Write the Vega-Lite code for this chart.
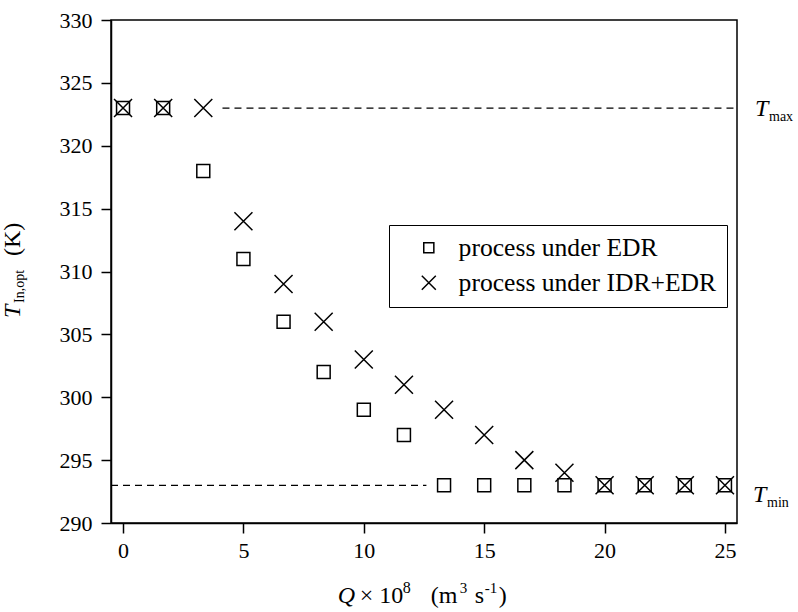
{
  "$schema": "https://vega.github.io/schema/vega-lite/v6.json",
  "width": 626,
  "height": 503,
  "autosize": {"type": "none"},
  "padding": {"left": 111, "top": 20, "right": 61, "bottom": 89},
  "background": "white",
  "config": {
    "font": "Liberation Serif",
    "view": {"stroke": "black", "strokeWidth": 1.5},
    "axis": {
      "grid": false,
      "domainColor": "black",
      "domainWidth": 1.5,
      "tickColor": "black",
      "tickWidth": 1.5,
      "tickSize": 10,
      "labelFont": "Liberation Serif",
      "labelFontSize": 22,
      "labelColor": "black"
    },
    "legend": {
      "orient": "none",
      "legendX": 278,
      "legendY": 205,
      "strokeColor": "black",
      "strokeWidth": 1,
      "padding": 10,
      "labelFont": "Liberation Serif",
      "labelFontSize": 25.6,
      "labelColor": "black",
      "labelLimit": 500,
      "symbolSize": 196,
      "symbolStrokeColor": "black",
      "symbolStrokeWidth": 1.5,
      "symbolFillColor": "transparent",
      "symbolOffset": 17,
      "labelOffset": 17,
      "rowPadding": 8,
      "title": null
    }
  },
  "datasets": {
    "points": [
      {"Q": 0, "T": 323, "series": "process under EDR"},
      {"Q": 1.667, "T": 323, "series": "process under EDR"},
      {"Q": 3.333, "T": 318, "series": "process under EDR"},
      {"Q": 5, "T": 311, "series": "process under EDR"},
      {"Q": 6.667, "T": 306, "series": "process under EDR"},
      {"Q": 8.333, "T": 302, "series": "process under EDR"},
      {"Q": 10, "T": 299, "series": "process under EDR"},
      {"Q": 11.667, "T": 297, "series": "process under EDR"},
      {"Q": 13.333, "T": 293, "series": "process under EDR"},
      {"Q": 15, "T": 293, "series": "process under EDR"},
      {"Q": 16.667, "T": 293, "series": "process under EDR"},
      {"Q": 18.333, "T": 293, "series": "process under EDR"},
      {"Q": 20, "T": 293, "series": "process under EDR"},
      {"Q": 21.667, "T": 293, "series": "process under EDR"},
      {"Q": 23.333, "T": 293, "series": "process under EDR"},
      {"Q": 25, "T": 293, "series": "process under EDR"},
      {"Q": 0, "T": 323, "series": "process under IDR+EDR"},
      {"Q": 1.667, "T": 323, "series": "process under IDR+EDR"},
      {"Q": 3.333, "T": 323, "series": "process under IDR+EDR"},
      {"Q": 5, "T": 314, "series": "process under IDR+EDR"},
      {"Q": 6.667, "T": 309, "series": "process under IDR+EDR"},
      {"Q": 8.333, "T": 306, "series": "process under IDR+EDR"},
      {"Q": 10, "T": 303, "series": "process under IDR+EDR"},
      {"Q": 11.667, "T": 301, "series": "process under IDR+EDR"},
      {"Q": 13.333, "T": 299, "series": "process under IDR+EDR"},
      {"Q": 15, "T": 297, "series": "process under IDR+EDR"},
      {"Q": 16.667, "T": 295, "series": "process under IDR+EDR"},
      {"Q": 18.333, "T": 294, "series": "process under IDR+EDR"},
      {"Q": 20, "T": 293, "series": "process under IDR+EDR"},
      {"Q": 21.667, "T": 293, "series": "process under IDR+EDR"},
      {"Q": 23.333, "T": 293, "series": "process under IDR+EDR"},
      {"Q": 25, "T": 293, "series": "process under IDR+EDR"}
    ],
    "limits": [
      {"name": "max", "x": 4.13, "x2": 25.5, "y": 323},
      {"name": "min", "x": -0.5, "x2": 12.6, "y": 293}
    ],
    "one": [{}]
  },
  "layer": [
    {
      "data": {"name": "limits"},
      "mark": {"type": "rule", "strokeDash": [7, 5], "strokeWidth": 1.2, "color": "black"},
      "encoding": {
        "x": {"field": "x", "type": "quantitative", "scale": {"domain": [-0.5, 25.5], "nice": false, "zero": false}},
        "x2": {"field": "x2"},
        "y": {"field": "y", "type": "quantitative", "scale": {"domain": [290, 330], "nice": false, "zero": false}}
      }
    },
    {
      "data": {"name": "points"},
      "mark": {"type": "point", "filled": false, "strokeWidth": 1.5, "color": "black", "size": 324, "opacity": 1},
      "encoding": {
        "x": {
          "field": "Q", "type": "quantitative",
          "scale": {"domain": [-0.5, 25.5], "nice": false, "zero": false},
          "axis": {"values": [0, 5, 10, 15, 20, 25], "title": null, "labelPadding": 7}
        },
        "y": {
          "field": "T", "type": "quantitative",
          "scale": {"domain": [290, 330], "nice": false, "zero": false},
          "axis": {"values": [290, 295, 300, 305, 310, 315, 320, 325, 330], "title": null, "labelPadding": 9}
        },
        "shape": {
          "field": "series", "type": "nominal",
          "scale": {
            "domain": ["process under EDR", "process under IDR+EDR"],
            "range": ["M-0.72,-0.72H0.72V0.72H-0.72Z", "M-1,-1L1,1M-1,1L1,-1"]
          },
          "legend": {"title": null}
        }
      }
    },
    {
      "data": {"name": "one"},
      "mark": {"type": "text", "text": "T", "font": "Liberation Serif", "fontStyle": "italic", "fontSize": 24, "angle": 270, "align": "left", "baseline": "alphabetic", "color": "black"},
      "encoding": {"x": {"datum": -4.28, "type": "quantitative"}, "y": {"datum": 306.3, "type": "quantitative"}}
    },
    {
      "data": {"name": "one"},
      "mark": {"type": "text", "text": "In,opt", "font": "Liberation Serif", "fontSize": 14, "angle": 270, "align": "left", "baseline": "alphabetic", "dx": 15, "dy": 4, "color": "black"},
      "encoding": {"x": {"datum": -4.28, "type": "quantitative"}, "y": {"datum": 306.3, "type": "quantitative"}}
    },
    {
      "data": {"name": "one"},
      "mark": {"type": "text", "text": "(K)", "font": "Liberation Serif", "fontSize": 24, "angle": 270, "align": "left", "baseline": "alphabetic", "dx": 62, "color": "black"},
      "encoding": {"x": {"datum": -4.28, "type": "quantitative"}, "y": {"datum": 306.3, "type": "quantitative"}}
    },
    {
      "data": {"name": "one"},
      "mark": {"type": "text", "text": "Q", "font": "Liberation Serif", "fontStyle": "italic", "fontSize": 24, "align": "left", "baseline": "alphabetic", "color": "black"},
      "encoding": {"x": {"datum": 8.92, "type": "quantitative"}, "y": {"datum": 283.64, "type": "quantitative"}}
    },
    {
      "data": {"name": "one"},
      "mark": {"type": "text", "text": "× 10", "font": "Liberation Serif", "fontSize": 24, "align": "left", "baseline": "alphabetic", "dx": 22, "color": "black"},
      "encoding": {"x": {"datum": 8.92, "type": "quantitative"}, "y": {"datum": 283.64, "type": "quantitative"}}
    },
    {
      "data": {"name": "one"},
      "mark": {"type": "text", "text": "8", "font": "Liberation Serif", "fontSize": 16, "align": "left", "baseline": "alphabetic", "dx": 65, "dy": -10, "color": "black"},
      "encoding": {"x": {"datum": 8.92, "type": "quantitative"}, "y": {"datum": 283.64, "type": "quantitative"}}
    },
    {
      "data": {"name": "one"},
      "mark": {"type": "text", "text": "(m", "font": "Liberation Serif", "fontSize": 24, "align": "left", "baseline": "alphabetic", "dx": 93, "color": "black"},
      "encoding": {"x": {"datum": 8.92, "type": "quantitative"}, "y": {"datum": 283.64, "type": "quantitative"}}
    },
    {
      "data": {"name": "one"},
      "mark": {"type": "text", "text": "3", "font": "Liberation Serif", "fontSize": 15, "align": "left", "baseline": "alphabetic", "dx": 122, "dy": -10, "color": "black"},
      "encoding": {"x": {"datum": 8.92, "type": "quantitative"}, "y": {"datum": 283.64, "type": "quantitative"}}
    },
    {
      "data": {"name": "one"},
      "mark": {"type": "text", "text": "s", "font": "Liberation Serif", "fontSize": 24, "align": "left", "baseline": "alphabetic", "dx": 137, "color": "black"},
      "encoding": {"x": {"datum": 8.92, "type": "quantitative"}, "y": {"datum": 283.64, "type": "quantitative"}}
    },
    {
      "data": {"name": "one"},
      "mark": {"type": "text", "text": "-1", "font": "Liberation Serif", "fontSize": 15, "align": "left", "baseline": "alphabetic", "dx": 147, "dy": -10, "color": "black"},
      "encoding": {"x": {"datum": 8.92, "type": "quantitative"}, "y": {"datum": 283.64, "type": "quantitative"}}
    },
    {
      "data": {"name": "one"},
      "mark": {"type": "text", "text": ")", "font": "Liberation Serif", "fontSize": 24, "align": "left", "baseline": "alphabetic", "dx": 161, "color": "black"},
      "encoding": {"x": {"datum": 8.92, "type": "quantitative"}, "y": {"datum": 283.64, "type": "quantitative"}}
    },
    {
      "data": {"name": "one"},
      "mark": {"type": "text", "text": "T", "font": "Liberation Serif", "fontStyle": "italic", "fontSize": 24, "align": "left", "baseline": "alphabetic", "dx": 18, "dy": 8, "color": "black"},
      "encoding": {"x": {"datum": 25.5, "type": "quantitative"}, "y": {"datum": 323, "type": "quantitative"}}
    },
    {
      "data": {"name": "one"},
      "mark": {"type": "text", "text": "max", "font": "Liberation Serif", "fontSize": 14, "align": "left", "baseline": "alphabetic", "dx": 32, "dy": 13, "color": "black"},
      "encoding": {"x": {"datum": 25.5, "type": "quantitative"}, "y": {"datum": 323, "type": "quantitative"}}
    },
    {
      "data": {"name": "one"},
      "mark": {"type": "text", "text": "T", "font": "Liberation Serif", "fontStyle": "italic", "fontSize": 24, "align": "left", "baseline": "alphabetic", "dx": 16, "dy": 17, "color": "black"},
      "encoding": {"x": {"datum": 25.5, "type": "quantitative"}, "y": {"datum": 293, "type": "quantitative"}}
    },
    {
      "data": {"name": "one"},
      "mark": {"type": "text", "text": "min", "font": "Liberation Serif", "fontSize": 14, "align": "left", "baseline": "alphabetic", "dx": 30, "dy": 22, "color": "black"},
      "encoding": {"x": {"datum": 25.5, "type": "quantitative"}, "y": {"datum": 293, "type": "quantitative"}}
    }
  ]
}
